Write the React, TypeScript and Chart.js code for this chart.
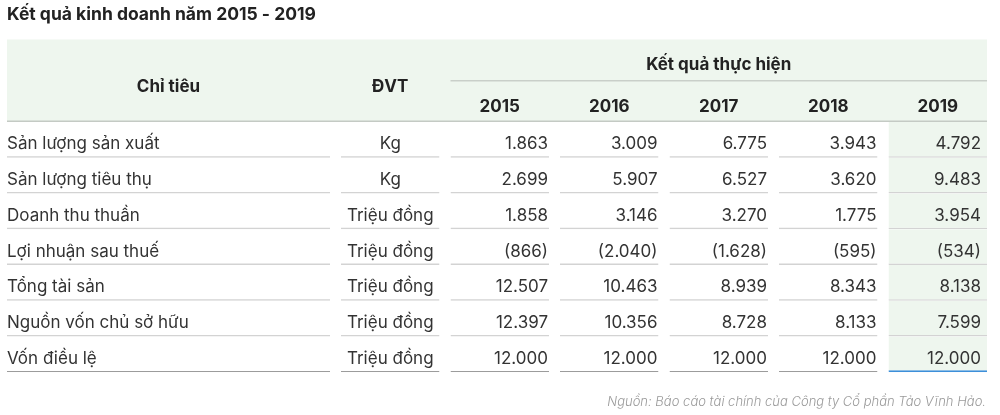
import { useEffect, useRef } from 'react';
import { Chart, registerables } from 'chart.js';

Chart.register(...registerables);

// ---------- Data ----------
const TITLE = 'Kết quả kinh doanh năm 2015 - 2019';
const SOURCE = 'Nguồn: Báo cáo tài chính của Công ty Cổ phần Tảo Vĩnh Hảo.';
const HEADER_ITEM = 'Chỉ tiêu';
const HEADER_UNIT = 'ĐVT';
const HEADER_GROUP = 'Kết quả thực hiện';

const categories = [
  'Sản lượng sản xuất',
  'Sản lượng tiêu thụ',
  'Doanh thu thuần',
  'Lợi nhuận sau thuế',
  'Tổng tài sản',
  'Nguồn vốn chủ sở hữu',
  'Vốn điều lệ',
];
const units = ['Kg', 'Kg', 'Triệu đồng', 'Triệu đồng', 'Triệu đồng', 'Triệu đồng', 'Triệu đồng'];
const years = ['2015', '2016', '2017', '2018', '2019'];

const values2015 = [1863, 2699, 1858, -866, 12507, 12397, 12000];
const values2016 = [3009, 5907, 3146, -2040, 10463, 10356, 12000];
const values2017 = [6775, 6527, 3270, -1628, 8939, 8728, 12000];
const values2018 = [3943, 3620, 1775, -595, 8343, 8133, 12000];
const values2019 = [4792, 9483, 3954, -534, 8138, 7599, 12000];
const seriesValues = [values2015, values2016, values2017, values2018, values2019];

// ---------- Layout / style (not data) ----------
const W = 1000;
const H = 415;
const AREA = { left: 7, right: 987, top: 122, bottom: 372.3 };
const HEADER_TOP = 39.5;
const HEADER_MID = 81;
const COL_WIDTHS = [323, 98.5, 98.5, 98.5, 98.5, 98.5, 98.5];
const COL_GAP = 11;
const FONT = 'Inter, "Noto Sans", sans-serif';
const C_TEXT = '#333333';
const C_HEAD = '#222222';
const C_BG = '#eef6ee';
const C_LINE = '#d3d3d3';
const C_LINE_LAST = '#9c9c9c';
const C_BLUE = '#3d8fd9';

const colEdges: [number, number][] = (() => {
  const out: [number, number][] = [];
  let p = 0;
  COL_WIDTHS.forEach((w) => {
    out.push([p, p + w]);
    p += w + COL_GAP;
  });
  return out;
})();
const XMAX = colEdges[colEdges.length - 1][1];

const fmt = (v: number) => {
  const s = Math.abs(v).toString().replace(/\B(?=(\d{3})+(?!\d))/g, '.');
  return v < 0 ? `(${s})` : s;
};

const lastRow = categories.length - 1;
const lastCol = colEdges.length - 1;

const tablePlugin = {
  id: 'tableText',
  beforeDatasetsDraw(chart: any) {
    const ctx = chart.ctx;
    const x = chart.scales.x;
    const top = chart.chartArea.top;
    const xl = x.getPixelForValue(colEdges[0][0]);
    const xr = x.getPixelForValue(colEdges[lastCol][1]);
    ctx.save();
    ctx.fillStyle = C_BG;
    ctx.fillRect(xl, HEADER_TOP, xr - xl, top - HEADER_TOP);
    // line under group header
    const gl = x.getPixelForValue(colEdges[2][0]);
    ctx.fillStyle = '#c9cfc9';
    ctx.fillRect(gl, HEADER_MID - 1, xr - gl, 1.5);
    // header bottom line
    ctx.fillStyle = '#c4cac4';
    ctx.fillRect(xl, top - 1.5, xr - xl, 1.5);

    ctx.fillStyle = C_HEAD;
    ctx.font = `700 17px ${FONT}`;
    ctx.textAlign = 'center';
    ctx.textBaseline = 'alphabetic';
    const mid = (c: number) => (x.getPixelForValue(colEdges[c][0]) + x.getPixelForValue(colEdges[c][1])) / 2;
    ctx.fillText(HEADER_ITEM, mid(0), 91.5);
    ctx.fillText(HEADER_UNIT, mid(1), 91.5);
    ctx.fillText(HEADER_GROUP, (gl + xr) / 2, 69.5);
    years.forEach((yr, i) => ctx.fillText(yr, mid(i + 2), 111.5));

    // title
    ctx.textAlign = 'left';
    ctx.font = `700 17.5px ${FONT}`;
    ctx.fillText(TITLE, xl, 19.5);
    ctx.restore();
  },
  afterDatasetsDraw(chart: any) {
    const ctx = chart.ctx;
    const x = chart.scales.x;
    const y = chart.scales.y;
    const half = (y.getPixelForValue(1) - y.getPixelForValue(0)) / 2;
    ctx.save();
    ctx.fillStyle = C_TEXT;
    ctx.font = `400 17px ${FONT}`;
    ctx.textBaseline = 'alphabetic';
    categories.forEach((cat, r) => {
      const base = y.getPixelForValue(r) + half - 8.3;
      ctx.textAlign = 'left';
      ctx.fillText(cat, x.getPixelForValue(colEdges[0][0]), base);
      ctx.textAlign = 'center';
      ctx.fillText(units[r], (x.getPixelForValue(colEdges[1][0]) + x.getPixelForValue(colEdges[1][1])) / 2, base);
      ctx.textAlign = 'right';
      seriesValues.forEach((vals, i) => {
        const c = i + 2;
        const pad = c === lastCol ? 6 : 1;
        ctx.fillText(fmt(vals[r]), x.getPixelForValue(colEdges[c][1]) - pad, base);
      });
    });
    // source
    ctx.fillStyle = '#9a9a9a';
    ctx.font = `italic 300 13px ${FONT}`;
    ctx.textAlign = 'right';
    ctx.fillText(SOURCE, x.getPixelForValue(colEdges[lastCol][1]) - 1, 405.5);
    ctx.restore();
  },
};

export default function App() {
  const ref = useRef<HTMLCanvasElement | null>(null);
  useEffect(() => {
    if (!ref.current) return;
    const datasets = colEdges.map((edge, c) => ({
      label: c === 0 ? HEADER_ITEM : c === 1 ? HEADER_UNIT : years[c - 2],
      data: categories.map(() => [edge[0], edge[1]]),
      backgroundColor: c === lastCol ? C_BG : 'rgba(0,0,0,0)',
      borderColor: categories.map((_, r) => (r === lastRow ? (c === lastCol ? C_BLUE : C_LINE_LAST) : C_LINE)),
      borderWidth: categories.map((_, r) => ({
        top: 0,
        left: 0,
        right: 0,
        bottom: r === lastRow ? (c === lastCol ? 2 : 1.2) : 1.5,
      })),
      borderSkipped: false,
      grouped: false,
      barPercentage: 1,
      categoryPercentage: 1,
      inflateAmount: 0,
    }));
    const chart = new Chart(ref.current, {
      type: 'bar',
      data: { labels: categories, datasets: datasets as any },
      options: {
        indexAxis: 'y',
        animation: false,
        responsive: false,
        events: [],
        layout: {
          padding: { left: AREA.left, right: W - AREA.right, top: AREA.top, bottom: H - AREA.bottom },
        },
        plugins: { legend: { display: false }, tooltip: { enabled: false }, title: { display: false } },
        scales: {
          x: { type: 'linear', min: 0, max: XMAX, display: false },
          y: { type: 'category', display: false, offset: true },
        },
      },
      plugins: [tablePlugin],
    });
    return () => chart.destroy();
  }, []);
  return (
    <canvas
      ref={ref}
      width={W}
      height={H}
      style={{ position: 'absolute', left: 0, top: 0, width: W, height: H, display: 'block' }}
    />
  );
}
